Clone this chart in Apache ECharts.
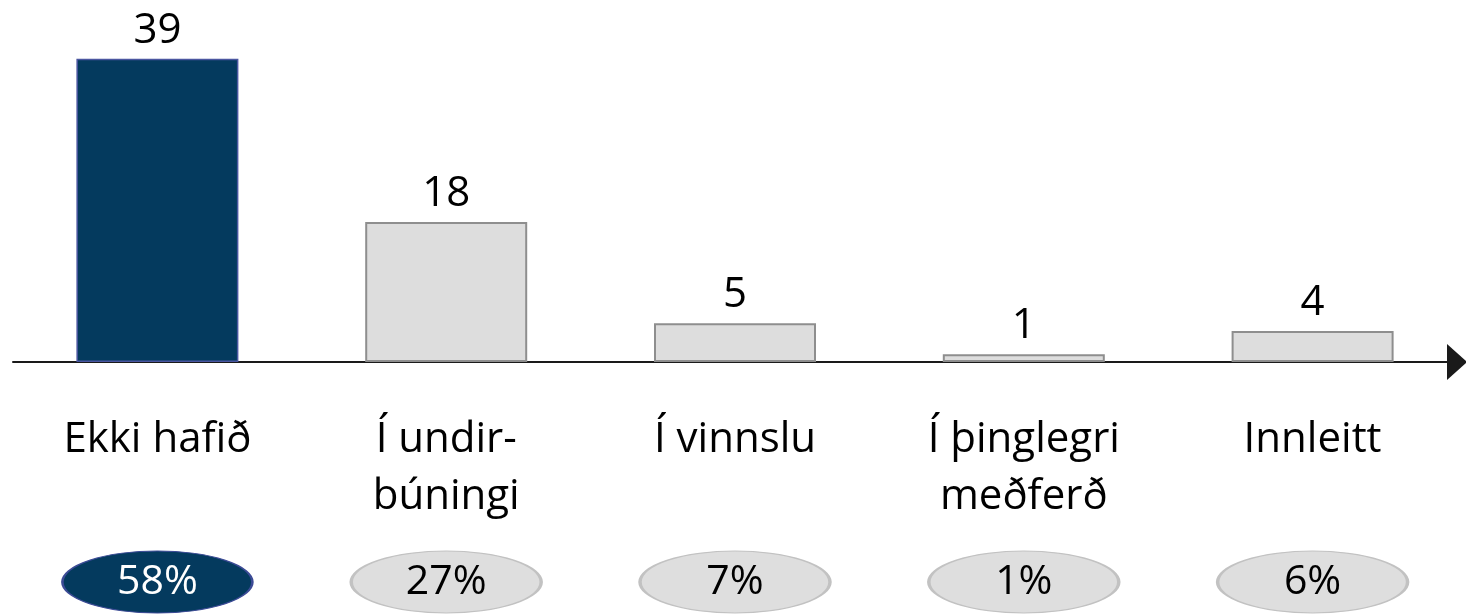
<!DOCTYPE html>
<html>
<head>
<meta charset="utf-8">
<script src="https://cdn.jsdelivr.net/npm/echarts@6/dist/echarts.min.js"></script>
<style>
  html, body { margin: 0; padding: 0; background: #fff; }
  #chart { width: 1466px; height: 614px; }
</style>
</head>
<body>
<div id="chart"></div>
<script>
// staða verkefna
const categories = ['Ekki hafið', 'Í undir-\nbúningi', 'Í vinnslu', 'Í þinglegri\nmeðferð', 'Innleitt']
const counts = [39, 18, 5, 1, 4]
const pcts = [58, 27, 7, 1, 6]

const DARK = '#043a5e'
const FONT = '"Open Sans", sans-serif'

const chart = echarts.init(document.getElementById('chart'))

chart.setOption({
  animation: false,
  textStyle: { fontFamily: FONT },
  grid: [
    { left: 13, right: 9, top: 51, bottom: 252 },
    { left: 13, right: 9, top: 551, height: 62 }
  ],
  xAxis: [{
    type: 'category', data: categories, gridIndex: 0,
    axisLine: {
      lineStyle: { color: '#1a1a1a', width: 2 },
      symbol: ['none', 'triangle'], symbolSize: [36, 20]
    },
    axisTick: { show: false },
    axisLabel: {
      color: '#000', fontSize: 42, lineHeight: 57, margin: 50,
      fontFamily: FONT, interval: 0
    }
  }, {
    type: 'category', data: categories, gridIndex: 1, show: false
  }],
  yAxis: [
    { type: 'value', gridIndex: 0, min: 0, max: 40, show: false, splitLine: { show: false } },
    { type: 'value', gridIndex: 1, min: -1, max: 1, show: false, splitLine: { show: false } }
  ],
  series: [{
    type: 'bar', xAxisIndex: 0, yAxisIndex: 0, barWidth: 162,
    data: counts.map((v, i) => ({
      value: v,
      itemStyle: i === 0
        ? { color: DARK, borderColor: '#4a56a0', borderWidth: 1.5 }
        : { color: '#dddddd', borderColor: '#8e8e8e', borderWidth: 2 }
    })),
    label: {
      show: true, position: 'top', distance: 7,
      color: '#000', fontSize: 42, fontFamily: FONT
    }
  }, {
    type: 'scatter', xAxisIndex: 1, yAxisIndex: 1,
    symbol: 'circle', symbolSize: [190, 62],
    data: pcts.map((p, i) => ({
      value: [i, 0],
      itemStyle: i === 0
        ? { color: DARK, borderColor: '#3c4b96', borderWidth: 1.5, opacity: 1 }
        : { color: '#dedede', borderColor: '#c2c2c2', borderWidth: 2, opacity: 1 },
      label: { color: i === 0 ? '#fff' : '#000' }
    })),
    label: {
      show: true, position: 'inside', fontSize: 41, fontFamily: FONT,
      formatter: p => pcts[p.dataIndex] + '%'
    }
  }]
})
</script>
</body>
</html>
